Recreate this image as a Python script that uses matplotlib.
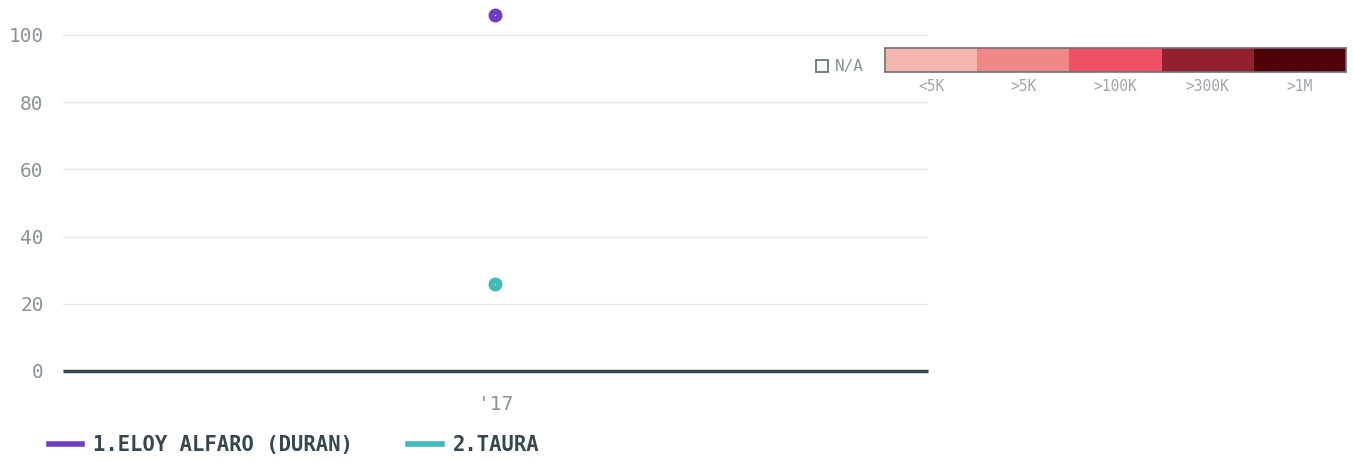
import matplotlib
matplotlib.use("Agg")
import matplotlib.pyplot as plt
from matplotlib.patches import Rectangle
from matplotlib.lines import Line2D

# ---- data ----
years = ["'17"]
series_names = ["1.ELOY ALFARO (DURAN)", "2.TAURA"]
eloy_values = [106]
taura_values = [26]
series_colors = ["#6f3cc4", "#3dbab9"]
y_ticks = [0, 20, 40, 60, 80, 100]
scale_labels = ["<5K", ">5K", ">100K", ">300K", ">1M"]
scale_colors = ["#f4b6ad", "#f08888", "#ef5064", "#93202e", "#520008"]

W, H = 1353, 463
fig = plt.figure(figsize=(W / 100, H / 100), dpi=100)
mono = "DejaVu Sans Mono"

ax = fig.add_axes([63 / W, 1 - 371 / H, (928 - 63) / W, 371 / H])
x = list(range(len(years)))
for vals, col in zip([eloy_values, taura_values], series_colors):
    ax.plot(x, vals, marker="o", markersize=9, color=col, linestyle="-",
            lw=3, clip_on=False, zorder=5)
    ax.plot(x, vals, marker="o", markersize=1.0, color="white", linestyle="none",
            markeredgewidth=0, clip_on=False, zorder=6)

ax.set_xlim(-1, 1)
ax.set_ylim(0, 371 / 3.36)
ax.set_yticks(y_ticks)
ax.set_yticklabels([str(v) for v in y_ticks], family=mono, fontsize=14, color="#8a9299")
ax.set_xticks(x)
ax.set_xticklabels(years, family=mono, fontsize=14, color="#8a9299")
ax.tick_params(axis="both", length=0)
ax.tick_params(axis="y", pad=14)
ax.tick_params(axis="x", pad=17)
for s in ax.spines.values():
    s.set_visible(False)
ax.grid(axis="y", color="#e6e6e6", lw=1)
ax.set_axisbelow(True)
ax.axhline(0, color="#37474f", lw=2.5, zorder=3, solid_capstyle="butt", clip_on=False)

# bottom legend
handles = [Line2D([], [], color=c, lw=4) for c in series_colors]
leg = fig.legend(handles, series_names, loc="center left",
                 bbox_to_anchor=(30 / W, 1 - 445 / H), ncol=2, frameon=False,
                 handlelength=1.62, handletextpad=0.55, columnspacing=2.7,
                 prop={"family": mono, "weight": "bold", "size": 14.8})
for t in leg.get_texts():
    t.set_color("#37474f")

# color scale legend
cax = fig.add_axes([885 / W, 1 - 72 / H, (1346 - 885) / W, 24 / H])
for i, c in enumerate(scale_colors):
    cax.barh(0, 1, left=i, height=1, color=c, edgecolor="none")
cax.set_xlim(0, len(scale_colors))
cax.set_ylim(-0.5, 0.5)
cax.set_yticks([])
cax.set_xticks([i + 0.5 for i in range(len(scale_labels))])
cax.set_xticklabels(scale_labels, family=mono, fontsize=10.5, color="#a0a6ab")
cax.tick_params(axis="x", length=0, pad=5)
for s in cax.spines.values():
    s.set_color("#6b737a")
    s.set_linewidth(1.2)

# N/A box
fig.add_artist(Rectangle((816 / W, 1 - 72 / H), 12 / W, 12 / H,
                         transform=fig.transFigure, facecolor="white",
                         edgecolor="#6b737a", lw=1.3))
fig.text(835 / W, 1 - 66 / H, "N/A", family=mono, fontsize=11.5,
         color="#8a9299", va="center", ha="left")

fig.savefig("out.png", dpi=100)
